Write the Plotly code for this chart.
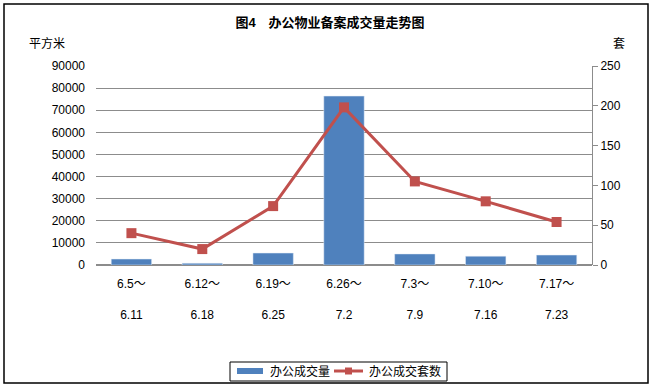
import plotly.graph_objects as go

categories = ["6.5～<br><br>6.11", "6.12～<br><br>6.18", "6.19～<br><br>6.25", "6.26～<br><br>7.2",
              "7.3～<br><br>7.9", "7.10～<br><br>7.16", "7.17～<br><br>7.23"]
area = [2700, 800, 5400, 76400, 5000, 4000, 4500]
units = [40, 20, 74, 198, 105, 80, 54]
left_ticks = [0, 10000, 20000, 30000, 40000, 50000, 60000, 70000, 80000, 90000]
right_ticks = [0, 50, 100, 150, 200, 250]
series_names = ["办公成交量", "办公成交套数"]

FONT = "Liberation Sans, Noto Sans CJK SC"
BLUE, RED = "#4F81BD", "#C0504D"
W, H = 652, 389
L, R, T, B = 96, 60, 66, 124
x = list(range(len(categories)))

fig = go.Figure()
fig.add_trace(go.Bar(x=x, y=area, name=series_names[0], marker_color=BLUE,
                     width=0.57, yaxis="y"))
fig.add_trace(go.Scatter(x=x, y=units, name=series_names[1], yaxis="y2",
                         mode="lines+markers",
                         line=dict(color=RED, width=3),
                         marker=dict(symbol="square", size=10, color=RED)))

fig.update_layout(
    width=W, height=H,
    margin=dict(l=L, r=R, t=T, b=B, autoexpand=False),
    paper_bgcolor="white", plot_bgcolor="white",
    font=dict(family=FONT, size=12, color="black"),
    title=dict(text="<b>图4　办公物业备案成交量走势图</b>", x=330 / W, xanchor="center",
               xref="container",
               y=1 - 22 / H, yref="container", yanchor="middle", font=dict(size=13)),
    showlegend=False,
    xaxis=dict(tickmode="array", tickvals=x, ticktext=categories, range=[-0.5, 6.5],
               showgrid=False, showline=False, ticks="", tickfont=dict(size=12),
               ticklabelstandoff=10),
    yaxis=dict(range=[0, 90000], tickvals=left_ticks, ticktext=[str(v) for v in left_ticks],
               showgrid=True, gridcolor="#8c8c8c",
               gridwidth=1, zeroline=True, zerolinecolor="#8c8c8c", showline=False,
               ticks="", tickfont=dict(size=12), ticklabelstandoff=10),
    yaxis2=dict(range=[0, 250], tickvals=right_ticks, ticktext=[str(v) for v in right_ticks],
                overlaying="y", side="right",
                showgrid=False, showline=True, linecolor="#8c8c8c", ticks="outside",
                ticklen=5, tickcolor="#8c8c8c", zeroline=False, tickfont=dict(size=12)),
)

pw, ph = W - L - R, H - T - B


def px(xp):
    return (xp - L) / pw


def py(yp):
    return (H - B - yp) / ph


fig.add_annotation(text="平方米", xref="paper", yref="paper", x=px(27), y=py(44),
                   xanchor="left", yanchor="middle", showarrow=False, font=dict(size=12))
fig.add_annotation(text="套", xref="paper", yref="paper", x=px(611), y=py(44),
                   xanchor="left", yanchor="middle", showarrow=False, font=dict(size=12))

# outer border
fig.add_shape(type="rect", xref="paper", yref="paper",
              x0=px(4), x1=px(648), y0=py(383), y1=py(4),
              line=dict(color="black", width=1.5))

# legend (drawn by hand to match the wide swatches)
fig.add_shape(type="rect", xref="paper", yref="paper",
              x0=px(230), x1=px(447), y0=py(381), y1=py(362),
              line=dict(color="black", width=1), fillcolor="white")
fig.add_shape(type="rect", xref="paper", yref="paper",
              x0=px(237), x1=px(263), y0=py(374), y1=py(368),
              line=dict(width=0), fillcolor=BLUE)
fig.add_annotation(text=series_names[0], xref="paper", yref="paper", x=px(268), y=py(371),
                   xanchor="left", yanchor="middle", showarrow=False, font=dict(size=12))
fig.add_shape(type="line", xref="paper", yref="paper",
              x0=px(334), x1=px(363), y0=py(371), y1=py(371),
              line=dict(color=RED, width=3))
fig.add_shape(type="rect", xref="paper", yref="paper",
              x0=px(345), x1=px(352), y0=py(374.5), y1=py(367.5),
              line=dict(width=0), fillcolor=RED)
fig.add_annotation(text=series_names[1], xref="paper", yref="paper", x=px(367), y=py(371),
                   xanchor="left", yanchor="middle", showarrow=False, font=dict(size=12))

fig.write_html("out.html", config={"displayModeBar": False},
               post_script="document.body.style.margin='0';document.body.style.overflow='hidden';")
